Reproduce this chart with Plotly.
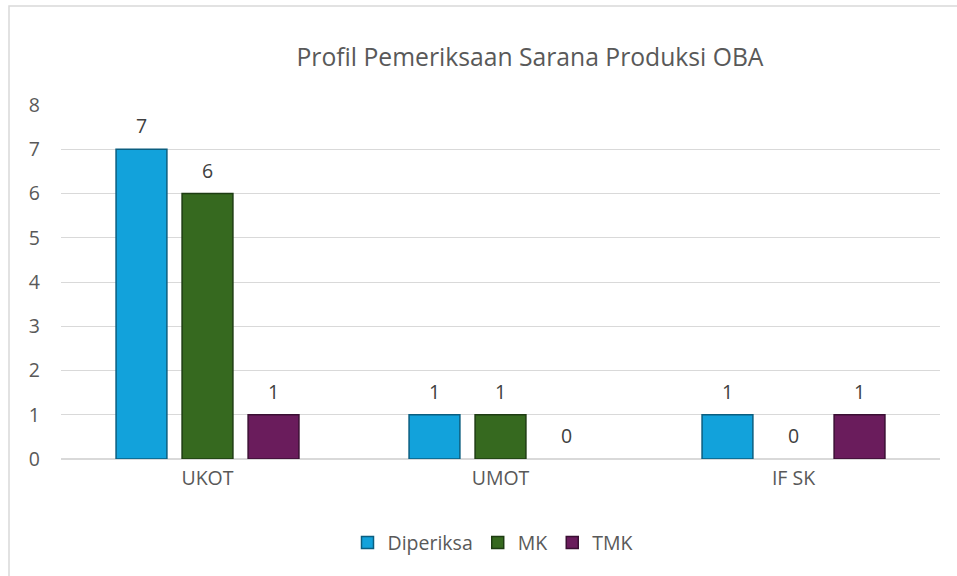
import plotly.graph_objects as go

categories = ["UKOT", "UMOT", "IF SK"]
diperiksa = [7, 1, 1]
mk = [6, 1, 0]
tmk = [1, 0, 1]
series_names = ["Diperiksa", "MK", "TMK"]
y_ticks = [0, 1, 2, 3, 4, 5, 6, 7, 8]
title_text = "Profil Pemeriksaan Sarana Produksi OBA"

colors = ["#12A2DB", "#36691F", "#6A1C5C"]
edges = ["#0B5E80", "#1E3C12", "#3A0F33"]

FONT = "Open Sans"
TXT = "#595959"
FS = 19.5

fig = go.Figure()
all_vals = [diperiksa, mk, tmk]
for name, vals, c, e in zip(series_names, all_vals, colors, edges):
    fig.add_trace(go.Bar(
        x=categories, y=vals, name=name,
        marker=dict(color=c, line=dict(color=e, width=[1.5 if v > 0 else 0 for v in vals])),
        cliponaxis=False,
    ))

# data labels
slot = 66
for i, vals in enumerate(all_vals):
    for cat, v in zip(categories, vals):
        fig.add_annotation(x=cat, y=v, text=str(v), showarrow=False,
                           xshift=(i - 1) * slot, yanchor="bottom", yshift=8,
                           font=dict(family=FONT, size=FS, color="#404040"))

fig.update_layout(
    width=957, height=576,
    margin=dict(l=61, r=17, t=105, b=117),
    paper_bgcolor="white", plot_bgcolor="white",
    barmode="group", bargap=0.324, bargroupgap=0.23,
    title=dict(text=title_text, x=(530 - 61) / 879, xref="paper", xanchor="center",
               y=1 - 57/576, yanchor="middle",
               font=dict(family=FONT, size=24.7, color=TXT)),
    font=dict(family=FONT, color=TXT),
    legend=dict(orientation="h", x=(493 - 61) / 879, xanchor="center", y=-0.237, yanchor="middle",
                font=dict(family=FONT, size=FS, color=TXT), itemwidth=30,
                traceorder="normal"),
)
fig.update_yaxes(range=[0, 8], tickvals=y_ticks, showgrid=True, gridcolor="#D9D9D9",
                 gridwidth=1, zeroline=True, zerolinecolor="#D9D9D9", zerolinewidth=1.5,
                 showline=False, ticks="", ticklabelstandoff=20,
                 tickfont=dict(family=FONT, size=FS, color=TXT))
fig.update_xaxes(showgrid=False, showline=False, ticks="", ticklabelstandoff=5,
                 tickfont=dict(family=FONT, size=FS, color=TXT))

# outer chart frame
fig.add_shape(type="rect", xref="paper", yref="paper",
              x0=(9 - 61) / 879, x1=(965 - 61) / 879,
              y0=(459 - 585) / 354, y1=(459 - 6) / 354,
              line=dict(color="#D9D9D9", width=1.5), fillcolor="rgba(0,0,0,0)", layer="below")

fig.write_html("out.html", config={"displayModeBar": False},
               post_script="document.body.style.margin='0';")
